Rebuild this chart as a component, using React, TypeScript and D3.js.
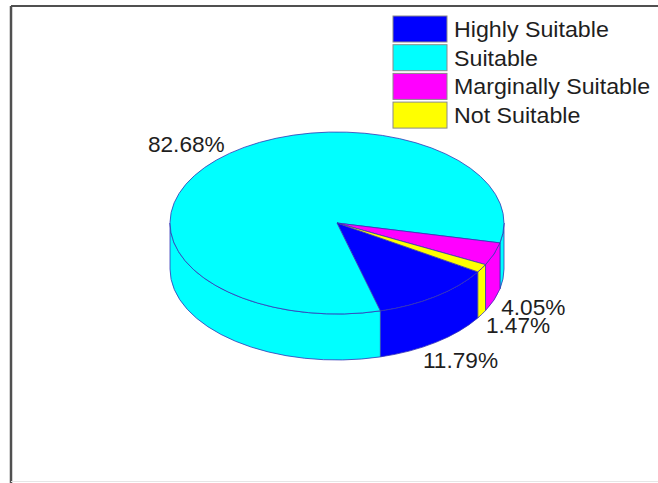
import React from 'react';
import * as d3 from 'd3';

// Land suitability classes and their share of the total area (%)
const categories = ['Highly Suitable', 'Suitable', 'Marginally Suitable', 'Not Suitable'];
const shares = [11.79, 82.68, 4.05, 1.47];
const colors = ['#0000ff', '#00ffff', '#ff00ff', '#ffff00'];
const valueLabels = shares.map((v) => `${v.toFixed(2)}%`);

const W = 658;
const H = 483;

// Pie geometry: top face is an ellipse, extruded downwards by `depth`
const CX = 337;
const CY = 223;
const RX = 167;
const RY = 91;
const DEPTH = 46;
const START_DEG = 32.5; // where the first slice begins, clockwise from 3 o'clock
const LABEL_K = 1.25;

const EDGE = '#3535b5';
const FONT = '"Liberation Sans", Arial, sans-serif';

const x = d3.scaleLinear().domain([-1, 1]).range([CX - RX, CX + RX]);
const y = d3.scaleLinear().domain([-1, 1]).range([CY - RY, CY + RY]);

const px = (t: number) => x(Math.cos(t));
const py = (t: number, dz = 0) => y(Math.sin(t)) + dz;

const startRad = (START_DEG * Math.PI) / 180;
const pie = d3
  .pie<number>()
  .sort(null)
  .value((d) => d)
  .startAngle(startRad)
  .endAngle(startRad + 2 * Math.PI);

const arcs = pie(shares);

function topPath(t0: number, t1: number) {
  const large = t1 - t0 > Math.PI ? 1 : 0;
  return `M${CX},${CY}L${px(t0)},${py(t0)}A${RX},${RY} 0 ${large} 1 ${px(t1)},${py(t1)}Z`;
}

function sidePath(u0: number, u1: number) {
  return (
    `M${px(u0)},${py(u0)}` +
    `A${RX},${RY} 0 0 1 ${px(u1)},${py(u1)}` +
    `L${px(u1)},${py(u1, DEPTH)}` +
    `A${RX},${RY} 0 0 0 ${px(u0)},${py(u0, DEPTH)}Z`
  );
}

// Parts of each slice's outer wall that face the viewer (angles 0..π, y down)
function visibleWalls(t0: number, t1: number) {
  const out: [number, number][] = [];
  for (const k of [-1, 0, 1]) {
    const a = Math.max(t0 + 2 * Math.PI * k, 0);
    const b = Math.min(t1 + 2 * Math.PI * k, Math.PI);
    if (b > a + 1e-6) out.push([a, b]);
  }
  return out;
}

export default function App() {
  const legendX = 393;
  const legendY = 16;
  const legendStep = 28.7;

  return (
    <svg
      width={W}
      height={H}
      style={{ position: 'absolute', left: 0, top: 0, background: '#fff' }}
      fontFamily={FONT}
    >
      {/* frame */}
      <line x1={11} y1={6} x2={W} y2={6} stroke="#505050" strokeWidth={2} />
      <line x1={11} y1={6} x2={11} y2={H} stroke="#505050" strokeWidth={2.5} />
      <line x1={11} y1={481.5} x2={W} y2={481.5} stroke="#e6e6e6" strokeWidth={1} />

      {/* side walls */}
      {arcs.map((a, i) =>
        visibleWalls(a.startAngle, a.endAngle).map(([u0, u1], j) => (
          <path
            key={`s${i}-${j}`}
            d={sidePath(u0, u1)}
            fill={colors[i]}
            stroke={EDGE}
            strokeWidth={0.8}
            strokeLinejoin="round"
          />
        ))
      )}

      {/* top faces */}
      {arcs.map((a, i) => (
        <path
          key={`t${i}`}
          d={topPath(a.startAngle, a.endAngle)}
          fill={colors[i]}
          stroke={EDGE}
          strokeWidth={0.8}
          strokeLinejoin="round"
        />
      ))}

      {/* value labels */}
      {arcs.map((a, i) => {
        const m = (a.startAngle + a.endAngle) / 2;
        const s = Math.sin(m);
        const lx = CX + LABEL_K * RX * Math.cos(m);
        const ly = CY + LABEL_K * RY * s + (s > 0 ? DEPTH : 0);
        return (
          <text
            key={`l${i}`}
            transform={`translate(${lx},${ly}) scale(1.03,1)`}
            textAnchor="middle"
            dominantBaseline="central"
            fontSize={22}
            fill="#1e1e1e"
          >
            {valueLabels[i]}
          </text>
        );
      })}

      {/* legend */}
      {categories.map((c, i) => (
        <g key={`g${i}`} transform={`translate(${legendX},${legendY + i * legendStep})`}>
          <rect x={0} y={0} width={54} height={26} fill={colors[i]} stroke="#8a8a8a" strokeWidth={1} />
          <text transform="translate(61,21) scale(1.055,1)" fontSize={22} fill="#1e1e1e">
            {c}
          </text>
        </g>
      ))}
    </svg>
  );
}
